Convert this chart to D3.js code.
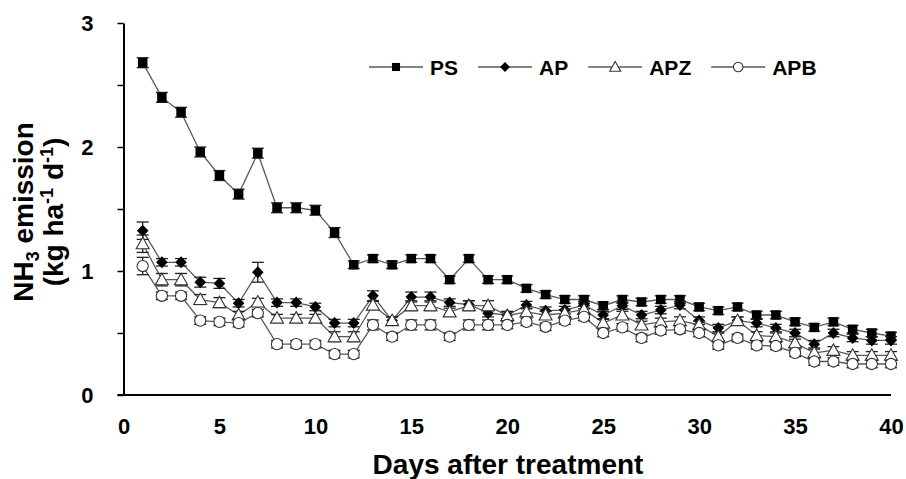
<!DOCTYPE html>
<html>
<head>
<meta charset="utf-8">
<script src="https://cdn.jsdelivr.net/npm/d3@7"></script>
<style>
  body { margin: 0; background: white; }
  text { font-family: "Liberation Sans", Arial, sans-serif; font-weight: bold; }
</style>
</head>
<body>
<div id="chart"></div>
<script>
const days = d3.range(1, 41);

const seriesNames = ["PS", "AP", "APZ", "APB"];

const psValues = [2.68, 2.40, 2.28, 1.96, 1.77, 1.62, 1.95, 1.51, 1.51, 1.49,
  1.31, 1.05, 1.10, 1.05, 1.10, 1.10, 0.93, 1.10, 0.93, 0.93,
  0.86, 0.81, 0.77, 0.77, 0.72, 0.77, 0.75, 0.77, 0.77, 0.71,
  0.68, 0.71, 0.645, 0.645, 0.59, 0.545, 0.59, 0.53, 0.50, 0.475];
const apValues = [1.325, 1.07, 1.07, 0.91, 0.90, 0.74, 0.99, 0.745, 0.745, 0.71,
  0.58, 0.58, 0.80, 0.60, 0.79, 0.79, 0.745, 0.73, 0.66, 0.645,
  0.725, 0.68, 0.685, 0.725, 0.645, 0.72, 0.645, 0.685, 0.725, 0.60,
  0.54, 0.60, 0.58, 0.54, 0.50, 0.41, 0.50, 0.46, 0.44, 0.44];
const apzValues = [1.22, 0.93, 0.93, 0.77, 0.745, 0.645, 0.75, 0.62, 0.62, 0.62,
  0.47, 0.47, 0.725, 0.60, 0.72, 0.72, 0.67, 0.72, 0.72, 0.64,
  0.67, 0.645, 0.66, 0.69, 0.58, 0.645, 0.565, 0.59, 0.60, 0.565,
  0.47, 0.60, 0.48, 0.47, 0.42, 0.34, 0.36, 0.32, 0.32, 0.32];
const apbValues = [1.04, 0.80, 0.80, 0.60, 0.59, 0.58, 0.66, 0.41, 0.41, 0.41,
  0.33, 0.33, 0.565, 0.47, 0.565, 0.565, 0.47, 0.565, 0.565, 0.565,
  0.59, 0.55, 0.60, 0.63, 0.50, 0.545, 0.46, 0.52, 0.53, 0.50,
  0.40, 0.46, 0.40, 0.395, 0.34, 0.27, 0.27, 0.25, 0.25, 0.25];

// standard errors (mostly hidden behind the markers)
const psErr = [0.04, 0.04, 0.04, 0.04, 0.04, 0.04, 0.04, 0.04, 0.04, 0.04,
  0.04, 0.03, 0.03, 0.03, 0.03, 0.03, 0.03, 0.03, 0.03, 0.03,
  0.03, 0.03, 0.03, 0.03, 0.03, 0.03, 0.03, 0.03, 0.03, 0.03,
  0.03, 0.03, 0.03, 0.03, 0.03, 0.03, 0.03, 0.03, 0.03, 0.03];
const apErr = [0.07, 0.03, 0.03, 0.04, 0.04, 0.03, 0.08, 0.03, 0.03, 0.03,
  0.03, 0.03, 0.04, 0.03, 0.04, 0.04, 0.03, 0.03, 0.03, 0.03,
  0.03, 0.03, 0.03, 0.03, 0.03, 0.03, 0.03, 0.03, 0.03, 0.03,
  0.03, 0.03, 0.03, 0.03, 0.03, 0.03, 0.03, 0.03, 0.03, 0.03];
const apzErr = [0.07, 0.05, 0.05, 0.04, 0.04, 0.03, 0.03, 0.03, 0.03, 0.03,
  0.04, 0.04, 0.03, 0.03, 0.04, 0.04, 0.03, 0.04, 0.04, 0.03,
  0.03, 0.03, 0.03, 0.03, 0.03, 0.03, 0.03, 0.03, 0.03, 0.03,
  0.03, 0.03, 0.03, 0.03, 0.03, 0.03, 0.03, 0.03, 0.03, 0.03];
const apbErr = [0.07, 0.03, 0.03, 0.03, 0.03, 0.03, 0.03, 0.03, 0.03, 0.03,
  0.03, 0.03, 0.04, 0.03, 0.04, 0.04, 0.03, 0.04, 0.04, 0.03,
  0.03, 0.03, 0.03, 0.03, 0.03, 0.03, 0.03, 0.03, 0.03, 0.03,
  0.03, 0.03, 0.03, 0.03, 0.03, 0.03, 0.03, 0.03, 0.03, 0.03];

const xTicks = [0, 5, 10, 15, 20, 25, 30, 35, 40];
const yTicks = [0, 0.5, 1, 1.5, 2, 2.5, 3];

const series = [
  { name: seriesNames[0], values: psValues, err: psErr, shape: "square" },
  { name: seriesNames[1], values: apValues, err: apErr, shape: "diamond" },
  { name: seriesNames[2], values: apzValues, err: apzErr, shape: "triangle" },
  { name: seriesNames[3], values: apbValues, err: apbErr, shape: "circle" },
];

const width = 906, height = 479;
const lineColor = "#5a5a5a";

const svg = d3
  .select("#chart")
  .append("svg")
  .attr("width", width)
  .attr("height", height)
  .style("background", "white");

const x = d3.scaleLinear().domain([0, 40]).range([123.5, 891]);
const y = d3.scaleLinear().domain([0, 3]).range([395, 23]);

// marker shapes drawn around (0,0)
function addMarker(g, shape, k) {
  if (shape === "square") {
    g.append("rect")
      .attr("x", -4.75 * k).attr("y", -4.75 * k)
      .attr("width", 9.5 * k).attr("height", 9.5 * k)
      .attr("fill", "black");
  } else if (shape === "diamond") {
    g.append("path")
      .attr("d", `M0,${-6 * k}L${5.8 * k},0L0,${6 * k}L${-5.8 * k},0Z`)
      .attr("fill", "black");
  } else if (shape === "triangle") {
    g.append("path")
      .attr("d", `M0,${-6.5 * k}L${6.5 * k},${5 * k}L${-6.5 * k},${5 * k}Z`)
      .attr("fill", "white")
      .attr("stroke", "#333")
      .attr("stroke-width", 1.1);
  } else {
    g.append("circle")
      .attr("r", 5.6 * k)
      .attr("fill", "white")
      .attr("stroke", "#333")
      .attr("stroke-width", 1.1);
  }
}

// y axis with minor ticks at the halves
const yAxis = svg
  .append("g")
  .attr("transform", `translate(${x(0)},0)`)
  .call(
    d3.axisLeft(y)
      .tickValues(yTicks)
      .tickSize(6)
      .tickSizeOuter(0)
      .tickPadding(24)
      .tickFormat((d) => (Number.isInteger(d) ? d : ""))
  );
yAxis.select(".domain").attr("stroke-width", 2);
yAxis.selectAll(".tick line").attr("stroke-width", 1.5);
yAxis.selectAll("text").attr("font-size", 22).attr("fill", "black");

// x axis: no tick marks, line reaches past the y axis
const xAxis = svg
  .append("g")
  .attr("transform", `translate(0,${y(0)})`)
  .call(d3.axisBottom(x).tickValues(xTicks).tickSize(0).tickPadding(23));
xAxis.select(".domain").remove();
xAxis.selectAll("text").attr("font-size", 22).attr("fill", "black");
svg
  .append("line")
  .attr("x1", x(0) - 6)
  .attr("x2", x(40))
  .attr("y1", y(0))
  .attr("y2", y(0))
  .attr("stroke", "black")
  .attr("stroke-width", 2);

// axis titles
svg
  .append("text")
  .attr("x", 508)
  .attr("y", 474)
  .attr("text-anchor", "middle")
  .attr("font-size", 28)
  .text("Days after treatment");

const yTitle = svg
  .append("g")
  .attr("transform", "translate(0,212) rotate(-90)")
  .attr("font-size", 28);
const t1 = yTitle.append("text").attr("x", 0).attr("y", 33).attr("text-anchor", "middle");
t1.append("tspan").text("NH");
t1.append("tspan").attr("font-size", 18).attr("dy", 6).text("3");
t1.append("tspan").attr("dy", -6).text(" emission");
const t2 = yTitle.append("text").attr("x", 0).attr("y", 63).attr("text-anchor", "middle");
t2.append("tspan").text("(kg ha");
t2.append("tspan").attr("font-size", 18).attr("dy", -10).text("-1");
t2.append("tspan").attr("dy", 10).text(" d");
t2.append("tspan").attr("font-size", 18).attr("dy", -10).text("-1");
t2.append("tspan").attr("dy", 10).text(")");

// series: line, error bars, markers
const line = d3
  .line()
  .x((d, i) => x(days[i]))
  .y((d) => y(d));

series.forEach((s) => {
  const g = svg.append("g");
  g.append("path")
    .datum(s.values)
    .attr("fill", "none")
    .attr("stroke", lineColor)
    .attr("stroke-width", 1.3)
    .attr("d", line);

  const bars = g
    .selectAll(".err")
    .data(s.values)
    .enter()
    .append("g")
    .attr("transform", (d, i) => `translate(${x(days[i])},0)`)
    .attr("stroke", "#222")
    .attr("stroke-width", 1.3);
  bars.append("line")
    .attr("y1", (d, i) => y(d + s.err[i]))
    .attr("y2", (d, i) => y(d - s.err[i]));
  bars.append("line")
    .attr("x1", -6).attr("x2", 6)
    .attr("y1", (d, i) => y(d + s.err[i]))
    .attr("y2", (d, i) => y(d + s.err[i]));
  bars.append("line")
    .attr("x1", -6).attr("x2", 6)
    .attr("y1", (d, i) => y(d - s.err[i]))
    .attr("y2", (d, i) => y(d - s.err[i]));

  g.selectAll(".mark")
    .data(s.values)
    .enter()
    .append("g")
    .attr("transform", (d, i) => `translate(${x(days[i])},${y(d)})`)
    .each(function () {
      addMarker(d3.select(this), s.shape, 1);
    });
});

// legend
let lx = 369;
const ly = 67;
series.forEach((s) => {
  const g = svg.append("g").attr("transform", `translate(${lx},${ly})`);
  g.append("line")
    .attr("x1", 0).attr("x2", 54)
    .attr("stroke", lineColor)
    .attr("stroke-width", 1.3);
  const m = g.append("g").attr("transform", "translate(27,0)");
  addMarker(m, s.shape, 0.85);
  const label = g
    .append("text")
    .attr("x", 61)
    .attr("y", 8)
    .attr("font-size", 21)
    .text(s.name);
  lx += 61 + label.node().getComputedTextLength() + 20;
});
</script>
</body>
</html>
